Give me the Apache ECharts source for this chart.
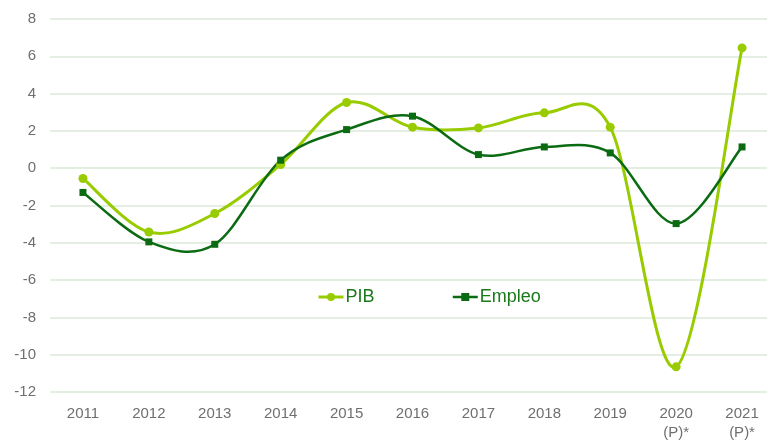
<!DOCTYPE html>
<html>
<head>
<meta charset="utf-8">
<script src="https://cdn.jsdelivr.net/npm/echarts@6/dist/echarts.min.js"></script>
<style>
  html, body { margin: 0; padding: 0; background: #fff; }
  #main { width: 767px; height: 443px; }
</style>
</head>
<body>
<div id="main"></div>
<script>
const years = ["2011", "2012", "2013", "2014", "2015", "2016", "2017", "2018", "2019", "2020\n(P)*", "2021\n(P)*"];
const pib = [-0.55, -3.42, -2.43, 0.2, 3.52, 2.2, 2.16, 2.97, 2.2, -10.65, 6.45];
const empleo = [-1.3, -3.95, -4.08, 0.43, 2.07, 2.79, 0.73, 1.14, 0.82, -2.97, 1.14];

const PIB_COLOR = "#99cc00";
const EMP_COLOR = "#0b6b12";

// curva suavizada tipo Excel (Catmull-Rom), un tramo por punto
function curve(name, values, color, width) {
  const n = values.length;
  return {
    name: name,
    type: "custom",
    z: 2,
    silent: true,
    encode: { x: 0, y: 1 },
    data: values.map((v, i) => [i, v]),
    renderItem(params, api) {
      const i = params.dataIndex;
      if (i >= n - 1) return;
      const pt = k => {
        const j = Math.max(0, Math.min(n - 1, k));
        return api.coord([j, values[j]]);
      };
      const p0 = pt(i - 1), p1 = pt(i), p2 = pt(i + 1), p3 = pt(i + 2);
      const t = 1 / 6;
      return {
        type: "bezierCurve",
        shape: {
          x1: p1[0], y1: p1[1], x2: p2[0], y2: p2[1],
          cpx1: p1[0] + (p2[0] - p0[0]) * t, cpy1: p1[1] + (p2[1] - p0[1]) * t,
          cpx2: p2[0] - (p3[0] - p1[0]) * t, cpy2: p2[1] - (p3[1] - p1[1]) * t
        },
        style: { stroke: color, lineWidth: width, fill: null }
      };
    }
  };
}

const chart = echarts.init(document.getElementById("main"));

chart.setOption({
  animation: false,
  textStyle: { fontFamily: "Liberation Sans, Arial, sans-serif" },
  grid: { left: 50, top: 19, width: 725, height: 373, outerBoundsMode: "none" },
  legend: {
    left: 312,
    top: 283,
    itemGap: 77,
    itemWidth: 25,
    itemHeight: 10,
    textStyle: { color: "#1a7a1a", fontSize: 18, padding: [0, 0, 0, -3] },
    data: [
      { name: "PIB", itemStyle: { color: PIB_COLOR }, lineStyle: { color: PIB_COLOR, width: 3, opacity: 1 } },
      { name: "Empleo", itemStyle: { color: EMP_COLOR }, lineStyle: { color: EMP_COLOR, width: 2.5, opacity: 1 } }
    ]
  },
  xAxis: {
    type: "category",
    data: years,
    axisLine: { show: false },
    axisTick: { show: false },
    axisLabel: { color: "#6f6f6f", fontSize: 15, margin: 12, lineHeight: 19 }
  },
  yAxis: {
    type: "value",
    min: -12,
    max: 8,
    interval: 2,
    axisLine: { show: false },
    axisTick: { show: false },
    axisLabel: { color: "#6f6f6f", fontSize: 15, margin: 14 },
    splitLine: { lineStyle: { color: "#dbe8d9", width: 1.5 } }
  },
  series: [
    {
      name: "PIB",
      type: "line",
      z: 3,
      data: pib,
      symbol: "circle",
      symbolSize: 9,
      itemStyle: { color: PIB_COLOR },
      lineStyle: { color: PIB_COLOR, width: 3, opacity: 0 }
    },
    {
      name: "Empleo",
      type: "line",
      z: 3,
      data: empleo,
      symbol: "rect",
      symbolSize: 7,
      itemStyle: { color: EMP_COLOR },
      lineStyle: { color: EMP_COLOR, width: 2.5, opacity: 0 }
    },
    curve("PIB", pib, PIB_COLOR, 3),
    curve("Empleo", empleo, EMP_COLOR, 2.5)
  ]
});
</script>
</body>
</html>
